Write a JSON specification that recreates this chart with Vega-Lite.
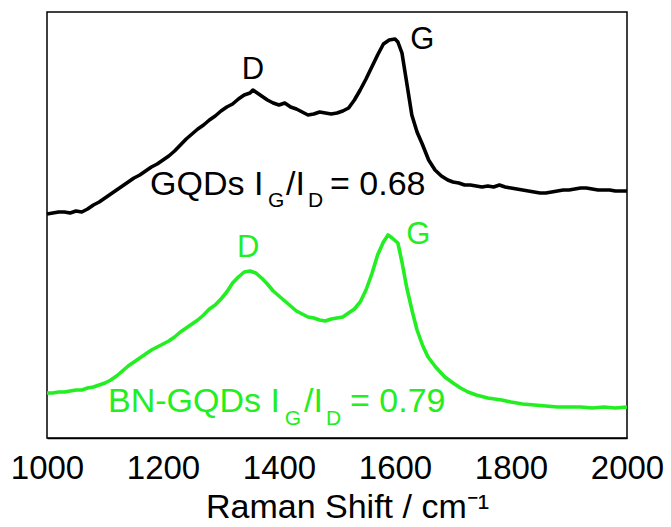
{
  "$schema": "https://vega.github.io/schema/vega-lite/v6.json",
  "width": 580,
  "height": 426,
  "autosize": {"type": "none"},
  "padding": {"left": 47, "top": 12, "right": 44, "bottom": 89},
  "background": "white",
  "config": {
    "view": {"stroke": "#000000", "strokeWidth": 1.5},
    "font": "Liberation Sans"
  },
  "datasets": {
    "spectra": [
      {"sample":"GQDs","shift":1000,"intensity":224},{"sample":"GQDs","shift":1010,"intensity":225},{"sample":"GQDs","shift":1020,"intensity":226},{"sample":"GQDs","shift":1030,"intensity":226},{"sample":"GQDs","shift":1040,"intensity":225},{"sample":"GQDs","shift":1050,"intensity":227},{"sample":"GQDs","shift":1060,"intensity":226},{"sample":"GQDs","shift":1070,"intensity":229},{"sample":"GQDs","shift":1080,"intensity":233},{"sample":"GQDs","shift":1090,"intensity":236},{"sample":"GQDs","shift":1100,"intensity":240},{"sample":"GQDs","shift":1110,"intensity":244},{"sample":"GQDs","shift":1120,"intensity":248},{"sample":"GQDs","shift":1130,"intensity":252},{"sample":"GQDs","shift":1140,"intensity":256},{"sample":"GQDs","shift":1150,"intensity":260},{"sample":"GQDs","shift":1160,"intensity":263},{"sample":"GQDs","shift":1170,"intensity":267},{"sample":"GQDs","shift":1180,"intensity":271},{"sample":"GQDs","shift":1190,"intensity":274},{"sample":"GQDs","shift":1200,"intensity":278},{"sample":"GQDs","shift":1210,"intensity":282},{"sample":"GQDs","shift":1220,"intensity":287},{"sample":"GQDs","shift":1230,"intensity":293},{"sample":"GQDs","shift":1240,"intensity":299},{"sample":"GQDs","shift":1250,"intensity":304},{"sample":"GQDs","shift":1260,"intensity":309},{"sample":"GQDs","shift":1270,"intensity":313},{"sample":"GQDs","shift":1280,"intensity":318},{"sample":"GQDs","shift":1290,"intensity":322},{"sample":"GQDs","shift":1300,"intensity":327},{"sample":"GQDs","shift":1310,"intensity":331},{"sample":"GQDs","shift":1320,"intensity":334},{"sample":"GQDs","shift":1330,"intensity":339},{"sample":"GQDs","shift":1340,"intensity":343},{"sample":"GQDs","shift":1350,"intensity":345},{"sample":"GQDs","shift":1355,"intensity":348},{"sample":"GQDs","shift":1360,"intensity":346},{"sample":"GQDs","shift":1370,"intensity":342},{"sample":"GQDs","shift":1380,"intensity":338},{"sample":"GQDs","shift":1390,"intensity":335},{"sample":"GQDs","shift":1400,"intensity":333},{"sample":"GQDs","shift":1410,"intensity":335},{"sample":"GQDs","shift":1420,"intensity":331},{"sample":"GQDs","shift":1430,"intensity":329},{"sample":"GQDs","shift":1440,"intensity":326},{"sample":"GQDs","shift":1450,"intensity":323},{"sample":"GQDs","shift":1460,"intensity":324},{"sample":"GQDs","shift":1470,"intensity":326},{"sample":"GQDs","shift":1480,"intensity":325},{"sample":"GQDs","shift":1490,"intensity":324},{"sample":"GQDs","shift":1500,"intensity":325},{"sample":"GQDs","shift":1510,"intensity":327},{"sample":"GQDs","shift":1520,"intensity":330},{"sample":"GQDs","shift":1530,"intensity":338},{"sample":"GQDs","shift":1540,"intensity":348},{"sample":"GQDs","shift":1550,"intensity":359},{"sample":"GQDs","shift":1560,"intensity":371},{"sample":"GQDs","shift":1570,"intensity":383},{"sample":"GQDs","shift":1580,"intensity":394},{"sample":"GQDs","shift":1590,"intensity":398},{"sample":"GQDs","shift":1600,"intensity":399},{"sample":"GQDs","shift":1605,"intensity":396},{"sample":"GQDs","shift":1612,"intensity":385},{"sample":"GQDs","shift":1620,"intensity":356},{"sample":"GQDs","shift":1629,"intensity":323},{"sample":"GQDs","shift":1638,"intensity":306},{"sample":"GQDs","shift":1647,"intensity":294},{"sample":"GQDs","shift":1658,"intensity":278},{"sample":"GQDs","shift":1669,"intensity":268},{"sample":"GQDs","shift":1680,"intensity":262},{"sample":"GQDs","shift":1691,"intensity":258},{"sample":"GQDs","shift":1700,"intensity":256},{"sample":"GQDs","shift":1710,"intensity":255},{"sample":"GQDs","shift":1720,"intensity":253},{"sample":"GQDs","shift":1730,"intensity":253},{"sample":"GQDs","shift":1740,"intensity":252},{"sample":"GQDs","shift":1750,"intensity":251},{"sample":"GQDs","shift":1760,"intensity":252},{"sample":"GQDs","shift":1770,"intensity":251},{"sample":"GQDs","shift":1780,"intensity":253},{"sample":"GQDs","shift":1790,"intensity":251},{"sample":"GQDs","shift":1800,"intensity":250},{"sample":"GQDs","shift":1810,"intensity":249},{"sample":"GQDs","shift":1820,"intensity":248},{"sample":"GQDs","shift":1830,"intensity":247},{"sample":"GQDs","shift":1840,"intensity":246},{"sample":"GQDs","shift":1850,"intensity":245},{"sample":"GQDs","shift":1860,"intensity":245},{"sample":"GQDs","shift":1870,"intensity":246},{"sample":"GQDs","shift":1880,"intensity":247},{"sample":"GQDs","shift":1890,"intensity":248},{"sample":"GQDs","shift":1900,"intensity":248},{"sample":"GQDs","shift":1910,"intensity":249},{"sample":"GQDs","shift":1920,"intensity":250},{"sample":"GQDs","shift":1930,"intensity":250},{"sample":"GQDs","shift":1940,"intensity":249},{"sample":"GQDs","shift":1950,"intensity":248},{"sample":"GQDs","shift":1960,"intensity":248},{"sample":"GQDs","shift":1970,"intensity":248},{"sample":"GQDs","shift":1980,"intensity":247},{"sample":"GQDs","shift":1990,"intensity":247},{"sample":"GQDs","shift":2000,"intensity":247},
      {"sample":"BN-GQDs","shift":1000,"intensity":45},{"sample":"BN-GQDs","shift":1010,"intensity":45},{"sample":"BN-GQDs","shift":1020,"intensity":46},{"sample":"BN-GQDs","shift":1030,"intensity":46},{"sample":"BN-GQDs","shift":1040,"intensity":47},{"sample":"BN-GQDs","shift":1050,"intensity":48},{"sample":"BN-GQDs","shift":1060,"intensity":48},{"sample":"BN-GQDs","shift":1070,"intensity":50},{"sample":"BN-GQDs","shift":1080,"intensity":51},{"sample":"BN-GQDs","shift":1090,"intensity":53},{"sample":"BN-GQDs","shift":1100,"intensity":55},{"sample":"BN-GQDs","shift":1110,"intensity":58},{"sample":"BN-GQDs","shift":1120,"intensity":62},{"sample":"BN-GQDs","shift":1130,"intensity":67},{"sample":"BN-GQDs","shift":1140,"intensity":72},{"sample":"BN-GQDs","shift":1150,"intensity":76},{"sample":"BN-GQDs","shift":1160,"intensity":80},{"sample":"BN-GQDs","shift":1170,"intensity":84},{"sample":"BN-GQDs","shift":1180,"intensity":88},{"sample":"BN-GQDs","shift":1190,"intensity":91},{"sample":"BN-GQDs","shift":1200,"intensity":94},{"sample":"BN-GQDs","shift":1210,"intensity":97},{"sample":"BN-GQDs","shift":1220,"intensity":101},{"sample":"BN-GQDs","shift":1230,"intensity":106},{"sample":"BN-GQDs","shift":1240,"intensity":110},{"sample":"BN-GQDs","shift":1250,"intensity":114},{"sample":"BN-GQDs","shift":1260,"intensity":118},{"sample":"BN-GQDs","shift":1270,"intensity":123},{"sample":"BN-GQDs","shift":1280,"intensity":129},{"sample":"BN-GQDs","shift":1290,"intensity":133},{"sample":"BN-GQDs","shift":1300,"intensity":139},{"sample":"BN-GQDs","shift":1310,"intensity":146},{"sample":"BN-GQDs","shift":1320,"intensity":155},{"sample":"BN-GQDs","shift":1330,"intensity":161},{"sample":"BN-GQDs","shift":1340,"intensity":166},{"sample":"BN-GQDs","shift":1350,"intensity":167},{"sample":"BN-GQDs","shift":1360,"intensity":165},{"sample":"BN-GQDs","shift":1370,"intensity":160},{"sample":"BN-GQDs","shift":1380,"intensity":154},{"sample":"BN-GQDs","shift":1390,"intensity":147},{"sample":"BN-GQDs","shift":1400,"intensity":142},{"sample":"BN-GQDs","shift":1410,"intensity":137},{"sample":"BN-GQDs","shift":1420,"intensity":132},{"sample":"BN-GQDs","shift":1430,"intensity":127},{"sample":"BN-GQDs","shift":1440,"intensity":124},{"sample":"BN-GQDs","shift":1450,"intensity":121},{"sample":"BN-GQDs","shift":1460,"intensity":120},{"sample":"BN-GQDs","shift":1470,"intensity":118},{"sample":"BN-GQDs","shift":1480,"intensity":117},{"sample":"BN-GQDs","shift":1490,"intensity":119},{"sample":"BN-GQDs","shift":1500,"intensity":120},{"sample":"BN-GQDs","shift":1510,"intensity":121},{"sample":"BN-GQDs","shift":1520,"intensity":125},{"sample":"BN-GQDs","shift":1530,"intensity":129},{"sample":"BN-GQDs","shift":1540,"intensity":136},{"sample":"BN-GQDs","shift":1550,"intensity":148},{"sample":"BN-GQDs","shift":1560,"intensity":164},{"sample":"BN-GQDs","shift":1570,"intensity":183},{"sample":"BN-GQDs","shift":1580,"intensity":196},{"sample":"BN-GQDs","shift":1588,"intensity":203},{"sample":"BN-GQDs","shift":1595,"intensity":200},{"sample":"BN-GQDs","shift":1605,"intensity":195},{"sample":"BN-GQDs","shift":1612,"intensity":176},{"sample":"BN-GQDs","shift":1620,"intensity":151},{"sample":"BN-GQDs","shift":1630,"intensity":126},{"sample":"BN-GQDs","shift":1638,"intensity":108},{"sample":"BN-GQDs","shift":1648,"intensity":92},{"sample":"BN-GQDs","shift":1657,"intensity":81},{"sample":"BN-GQDs","shift":1670,"intensity":71},{"sample":"BN-GQDs","shift":1686,"intensity":61},{"sample":"BN-GQDs","shift":1700,"intensity":55},{"sample":"BN-GQDs","shift":1713,"intensity":50},{"sample":"BN-GQDs","shift":1726,"intensity":46},{"sample":"BN-GQDs","shift":1740,"intensity":43},{"sample":"BN-GQDs","shift":1760,"intensity":40},{"sample":"BN-GQDs","shift":1784,"intensity":38},{"sample":"BN-GQDs","shift":1800,"intensity":36},{"sample":"BN-GQDs","shift":1820,"intensity":34},{"sample":"BN-GQDs","shift":1840,"intensity":33},{"sample":"BN-GQDs","shift":1860,"intensity":32},{"sample":"BN-GQDs","shift":1880,"intensity":31},{"sample":"BN-GQDs","shift":1900,"intensity":31},{"sample":"BN-GQDs","shift":1920,"intensity":31},{"sample":"BN-GQDs","shift":1940,"intensity":30},{"sample":"BN-GQDs","shift":1960,"intensity":31},{"sample":"BN-GQDs","shift":1980,"intensity":30},{"sample":"BN-GQDs","shift":2000,"intensity":31}
    ],
    "peaks": [
      {"sample":"GQDs","shift":1355,"intensity":368,"text":"D"},
      {"sample":"GQDs","shift":1647,"intensity":398,"text":"G"},
      {"sample":"BN-GQDs","shift":1347,"intensity":190,"text":"D"},
      {"sample":"BN-GQDs","shift":1640,"intensity":203,"text":"G"}
    ],
    "notes": [
      {"sample":"GQDs","shift":1177.6,"intensity":243,"text":"GQDs I"},
      {"sample":"GQDs","shift":1412,"intensity":243,"text":"/I"},
      {"sample":"GQDs","shift":1488,"intensity":243,"text":"= 0.68"},
      {"sample":"BN-GQDs","shift":1105.2,"intensity":26,"text":"BN-GQDs I"},
      {"sample":"BN-GQDs","shift":1443,"intensity":26,"text":"/I"},
      {"sample":"BN-GQDs","shift":1522.4,"intensity":26,"text":"= 0.79"}
    ],
    "subs": [
      {"sample":"GQDs","shift":1381,"intensity":231,"text":"G"},
      {"sample":"GQDs","shift":1450,"intensity":231,"text":"D"},
      {"sample":"BN-GQDs","shift":1410,"intensity":13,"text":"G"},
      {"sample":"BN-GQDs","shift":1481,"intensity":13,"text":"D"}
    ],
    "majorTicks": [{"shift":1000},{"shift":1200},{"shift":1400},{"shift":1600},{"shift":1800},{"shift":2000}],
    "minorTicks": [{"shift":1100},{"shift":1300},{"shift":1500},{"shift":1700},{"shift":1900}]
  },
  "encoding": {
    "y": {
      "field": "intensity",
      "type": "quantitative",
      "scale": {"domain": [0, 426], "nice": false, "zero": false},
      "axis": null
    },
    "color": {
      "field": "sample",
      "type": "nominal",
      "scale": {"domain": ["GQDs", "BN-GQDs"], "range": ["#000000", "#22ee22"]},
      "legend": null
    }
  },
  "resolve": {"axis": {"x": "independent"}},
  "layer": [
    {
      "data": {"name": "spectra"},
      "mark": {"type": "line", "strokeWidth": 3.6, "strokeJoin": "round", "interpolate": "linear"},
      "encoding": {
        "x": {
          "field": "shift",
          "type": "quantitative",
          "scale": {"domain": [1000, 2000], "nice": false, "zero": false},
          "axis": {
            "orient": "bottom",
            "title": "Raman Shift / cm⁻¹",
            "values": [1000,1200,1400,1600,1800,2000],
            "format": "d",
            "ticks": false,
            "domainColor": "#000000",
            "domainWidth": 1.5,
            "grid": false,
            "labelFlush": false,
            "labelOverlap": false,
            "labelFont": "Liberation Sans",
            "labelFontSize": 33,
            "labelColor": "#000000",
            "labelPadding": 14,
            "titleFont": "Liberation Sans",
            "titleFontSize": 34,
            "titleFontWeight": "normal",
            "titleColor": "#000000",
            "titlePadding": 5,
            "titleX": 300
          }
        },
        "detail": {"field": "sample"}
      }
    },
    {
      "data": {"name": "majorTicks"},
      "mark": {"type": "rule", "strokeWidth": 1.5, "color": "#000000"},
      "encoding": {
        "x": {"field": "shift", "type": "quantitative", "axis": null},
        "y": {"datum": 0},
        "y2": {"datum": 8},
        "color": {"value": "#000000"}
      }
    },
    {
      "data": {"name": "minorTicks"},
      "mark": {"type": "rule", "strokeWidth": 1.5, "color": "#000000"},
      "encoding": {
        "x": {"field": "shift", "type": "quantitative", "axis": null},
        "y": {"datum": 0},
        "y2": {"datum": 5},
        "color": {"value": "#000000"}
      }
    },
    {
      "data": {"name": "peaks"},
      "mark": {"type": "text", "fontSize": 31, "align": "center", "baseline": "middle", "font": "Liberation Sans"},
      "encoding": {
        "x": {"field": "shift", "type": "quantitative", "axis": null},
        "text": {"field": "text"}
      }
    },
    {
      "data": {"name": "notes"},
      "mark": {"type": "text", "fontSize": 34, "align": "left", "baseline": "alphabetic", "font": "Liberation Sans"},
      "encoding": {
        "x": {"field": "shift", "type": "quantitative", "axis": null},
        "text": {"field": "text"}
      }
    },
    {
      "data": {"name": "subs"},
      "mark": {"type": "text", "fontSize": 21, "align": "left", "baseline": "alphabetic", "font": "Liberation Sans"},
      "encoding": {
        "x": {"field": "shift", "type": "quantitative", "axis": null},
        "text": {"field": "text"}
      }
    }
  ]
}
